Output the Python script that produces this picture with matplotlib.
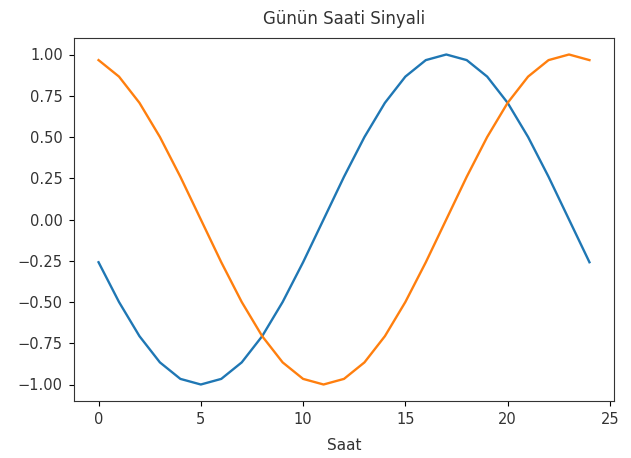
import matplotlib
matplotlib.use("Agg")
import matplotlib.pyplot as plt

# hour of day
saat = list(range(25))

# sine / cosine signals
gun_sin = [-0.259, -0.5, -0.707, -0.866, -0.966, -1.0, -0.966, -0.866, -0.707, -0.5,
           -0.259, 0.0, 0.259, 0.5, 0.707, 0.866, 0.966, 1.0, 0.966, 0.866,
           0.707, 0.5, 0.259, 0.0, -0.259]
gun_cos = [0.966, 0.866, 0.707, 0.5, 0.259, 0.0, -0.259, -0.5, -0.707, -0.866,
           -0.966, -1.0, -0.966, -0.866, -0.707, -0.5, -0.259, 0.0, 0.259, 0.5,
           0.707, 0.866, 0.966, 1.0, 0.966]

plt.rcParams['text.color'] = '#333333'
plt.rcParams['xtick.labelcolor'] = '#333333'
plt.rcParams['ytick.labelcolor'] = '#333333'
plt.rcParams['axes.labelcolor'] = '#333333'
plt.rcParams['axes.edgecolor'] = '#333333'

fig = plt.figure(figsize=(6.31, 4.58), dpi=100)
ax = fig.add_axes([74 / 631, 1 - 401 / 458, (614 - 74) / 631, (401 - 38) / 458])
ax.plot(saat, gun_sin, lw=1.7)
ax.plot(saat, gun_cos, lw=1.7)
ax.tick_params(labelsize=10.5, pad=4.5)
ax.set_xlabel("Saat", fontsize=11, labelpad=8)
ax.set_title("Günün Saati Sinyali", fontsize=12, pad=10)

fig.savefig("out.png", dpi=100)
